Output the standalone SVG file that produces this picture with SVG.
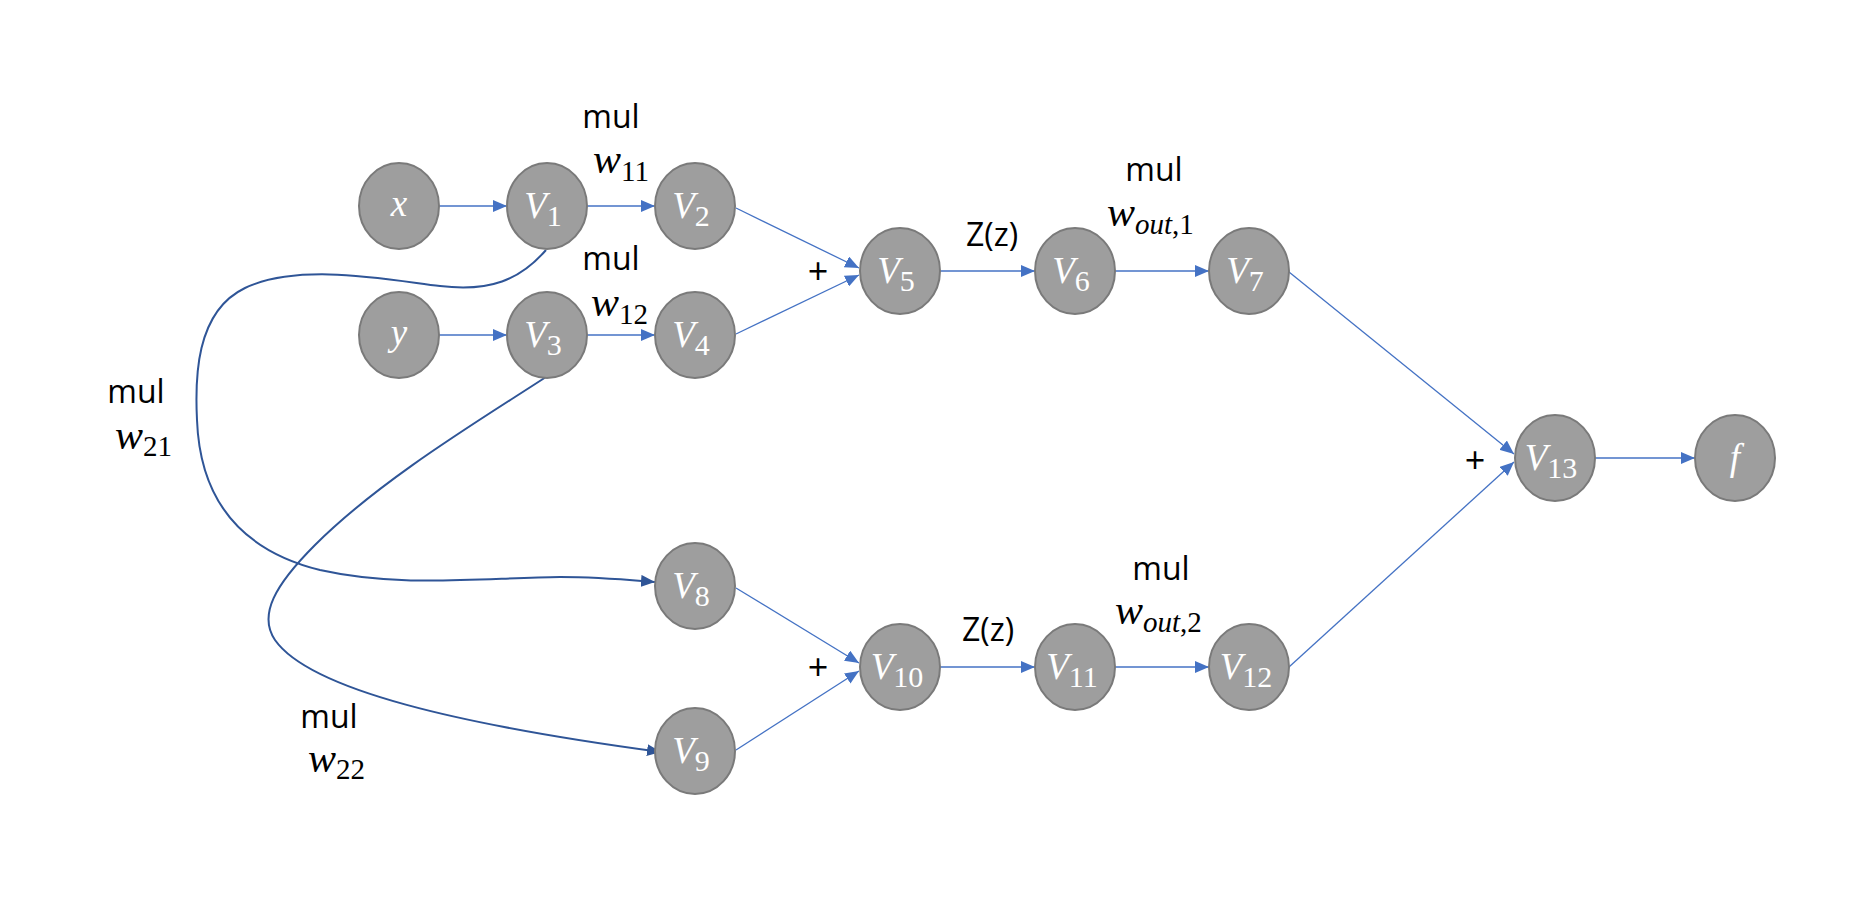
<svg xmlns="http://www.w3.org/2000/svg" width="1868" height="916" viewBox="0 0 1868 916">
<style>
.node ellipse{fill:#9e9e9e;stroke:#7a7a7a;stroke-width:2}
.nl{font-family:"Liberation Serif",serif;font-style:italic;font-size:37px;fill:#ffffff;text-anchor:middle}
.sub{font-style:normal;font-size:30px}
.lbl{font-family:"Open Sans","Liberation Sans",sans-serif;font-size:32px;fill:#000}
.plus{font-family:"Open Sans","Liberation Sans",sans-serif;font-size:36px;fill:#000;text-anchor:middle}
.mth{font-family:"Liberation Serif",serif;font-style:italic;font-size:42px;fill:#000}
.ms{font-size:29px;font-style:normal}
.msi{font-size:29px;font-style:italic}
.ln{stroke:#4472c4;stroke-width:1.3;fill:none}
.cv{stroke:#2f5597;stroke-width:2;fill:none}
</style>
<defs>
<marker id="ab" markerUnits="userSpaceOnUse" markerWidth="14" markerHeight="12" viewBox="0 0 14 12" refX="14" refY="6" orient="auto"><path d="M0,0 L14,6 L0,12 Z" fill="#4472c4"/></marker>
<marker id="ad" markerUnits="userSpaceOnUse" markerWidth="14" markerHeight="12" viewBox="0 0 14 12" refX="14" refY="6" orient="auto"><path d="M0,0 L14,6 L0,12 Z" fill="#2f5597"/></marker>
</defs>
<rect width="1868" height="916" fill="#ffffff"/>
<g id="connectors">
<line class="ln" x1="439" y1="206" x2="507" y2="206" marker-end="url(#ab)"/>
<line class="ln" x1="587" y1="206" x2="655" y2="206" marker-end="url(#ab)"/>
<line class="ln" x1="439" y1="335" x2="507" y2="335" marker-end="url(#ab)"/>
<line class="ln" x1="587" y1="335" x2="655" y2="335" marker-end="url(#ab)"/>
<line class="ln" x1="736" y1="208" x2="859" y2="268" marker-end="url(#ab)"/>
<line class="ln" x1="736" y1="334" x2="859" y2="275" marker-end="url(#ab)"/>
<line class="ln" x1="940" y1="271" x2="1035" y2="271" marker-end="url(#ab)"/>
<line class="ln" x1="1115" y1="271" x2="1209" y2="271" marker-end="url(#ab)"/>
<line class="ln" x1="1289" y1="272" x2="1514" y2="454" marker-end="url(#ab)"/>
<line class="ln" x1="736" y1="588" x2="859" y2="663" marker-end="url(#ab)"/>
<line class="ln" x1="736" y1="750" x2="859" y2="671" marker-end="url(#ab)"/>
<line class="ln" x1="940" y1="667" x2="1035" y2="667" marker-end="url(#ab)"/>
<line class="ln" x1="1115" y1="667" x2="1209" y2="667" marker-end="url(#ab)"/>
<line class="ln" x1="1289" y1="667" x2="1514" y2="462" marker-end="url(#ab)"/>
<line class="ln" x1="1595" y1="458" x2="1695" y2="458" marker-end="url(#ab)"/>
<path class="cv" d="M546,250 C520,280 490,292 440,286 C390,280 300,262 245,288 C195,312 195,380 197,420 C200,500 240,550 320,570 C400,588 480,578 560,577 C600,577 630,580 655,582" marker-end="url(#ad)"/>
<path class="cv" d="M546,377 C480,420 380,480 315,545 C275,585 258,615 275,640 C310,690 460,725 661,752" marker-end="url(#ad)"/>
</g>
<g id="node-x" class="node"><ellipse cx="399" cy="206" rx="40" ry="43"/><text class="nl" x="399" y="216">x</text></g>
<g id="node-y" class="node"><ellipse cx="399" cy="335" rx="40" ry="43"/><text class="nl" x="399" y="345">y</text></g>
<g id="node-V1" class="node"><ellipse cx="547" cy="206" rx="40" ry="43"/><text class="nl" x="543" y="218">V<tspan class="sub" dy="8">1</tspan></text></g>
<g id="node-V2" class="node"><ellipse cx="695" cy="206" rx="40" ry="43"/><text class="nl" x="691" y="218">V<tspan class="sub" dy="8">2</tspan></text></g>
<g id="node-V3" class="node"><ellipse cx="547" cy="335" rx="40" ry="43"/><text class="nl" x="543" y="347">V<tspan class="sub" dy="8">3</tspan></text></g>
<g id="node-V4" class="node"><ellipse cx="695" cy="335" rx="40" ry="43"/><text class="nl" x="691" y="347">V<tspan class="sub" dy="8">4</tspan></text></g>
<g id="node-V5" class="node"><ellipse cx="900" cy="271" rx="40" ry="43"/><text class="nl" x="896" y="283">V<tspan class="sub" dy="8">5</tspan></text></g>
<g id="node-V6" class="node"><ellipse cx="1075" cy="271" rx="40" ry="43"/><text class="nl" x="1071" y="283">V<tspan class="sub" dy="8">6</tspan></text></g>
<g id="node-V7" class="node"><ellipse cx="1249" cy="271" rx="40" ry="43"/><text class="nl" x="1245" y="283">V<tspan class="sub" dy="8">7</tspan></text></g>
<g id="node-V8" class="node"><ellipse cx="695" cy="586" rx="40" ry="43"/><text class="nl" x="691" y="598">V<tspan class="sub" dy="8">8</tspan></text></g>
<g id="node-V9" class="node"><ellipse cx="695" cy="751" rx="40" ry="43"/><text class="nl" x="691" y="763">V<tspan class="sub" dy="8">9</tspan></text></g>
<g id="node-V10" class="node"><ellipse cx="900" cy="667" rx="40" ry="43"/><text class="nl" x="897" y="679">V<tspan class="sub" dy="8">10</tspan></text></g>
<g id="node-V11" class="node"><ellipse cx="1075" cy="667" rx="40" ry="43"/><text class="nl" x="1072" y="679">V<tspan class="sub" dy="8">11</tspan></text></g>
<g id="node-V12" class="node"><ellipse cx="1249" cy="667" rx="40" ry="43"/><text class="nl" x="1246" y="679">V<tspan class="sub" dy="8">12</tspan></text></g>
<g id="node-V13" class="node"><ellipse cx="1555" cy="458" rx="40" ry="43"/><text class="nl" x="1551" y="470">V<tspan class="sub" dy="8">13</tspan></text></g>
<g id="node-f" class="node"><ellipse cx="1735" cy="458" rx="40" ry="43"/><text class="nl" x="1735" y="470">f</text></g>
<g id="labels">
<text class="lbl" x="611" y="128" text-anchor="middle">mul</text>
<text class="mth" x="593" y="173">w<tspan class="ms" dy="8">11</tspan></text>
<text class="lbl" x="611" y="270" text-anchor="middle">mul</text>
<text class="mth" x="591" y="316">w<tspan class="ms" dy="8">12</tspan></text>
<text class="plus" x="818" y="284">+</text>
<text class="lbl" x="992" y="246" text-anchor="middle">Z(z)</text>
<text class="lbl" x="1154" y="181" text-anchor="middle">mul</text>
<text class="mth" x="1107" y="226">w<tspan class="msi" dy="8">out</tspan><tspan class="ms">,1</tspan></text>
<text class="plus" x="1475" y="473">+</text>
<text class="plus" x="818" y="680">+</text>
<text class="lbl" x="988" y="641" text-anchor="middle">Z(z)</text>
<text class="lbl" x="1161" y="580" text-anchor="middle">mul</text>
<text class="mth" x="1115" y="624">w<tspan class="msi" dy="8">out</tspan><tspan class="ms">,2</tspan></text>
<text class="lbl" x="136" y="403" text-anchor="middle">mul</text>
<text class="mth" x="115" y="449">w<tspan class="ms" dy="7">21</tspan></text>
<text class="lbl" x="329" y="728" text-anchor="middle">mul</text>
<text class="mth" x="308" y="772">w<tspan class="ms" dy="7">22</tspan></text>
</g>
</svg>
